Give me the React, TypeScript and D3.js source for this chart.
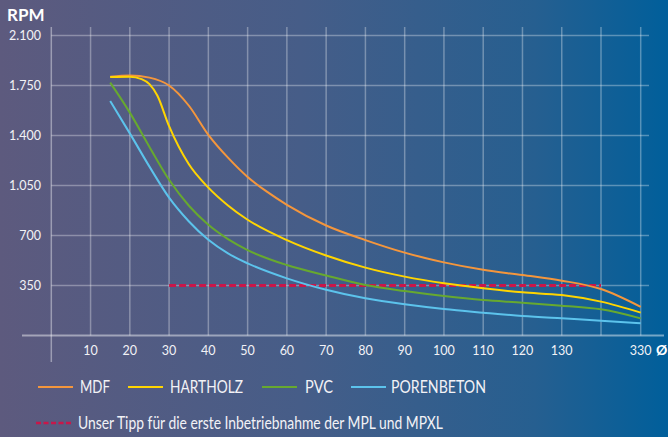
import React from "react";
import * as d3 from "d3";

const W = 668;
const H = 437;

const yTicks = [350, 700, 1050, 1400, 1750, 2100];
const xTickValues = [10, 20, 30, 40, 50, 60, 70, 80, 90, 100, 110, 120, 130, 140, 330];
const xTickLabels = ["10", "20", "30", "40", "50", "60", "70", "80", "90", "100", "110", "120", "130", "", "330"];

const mdfX = [15, 20, 25, 30, 35, 40, 45, 50, 55, 60, 70, 80, 90, 100, 110, 120, 130, 140, 330];
const mdfY = [1812, 1820, 1805, 1750, 1610, 1405, 1245, 1110, 1005, 915, 770, 668, 580, 512, 460, 423, 384, 325, 200];

const hartX = [15, 20, 23, 25, 27, 30, 35, 40, 45, 50, 60, 70, 80, 90, 100, 110, 120, 130, 140, 330];
const hartY = [1810, 1812, 1795, 1760, 1680, 1465, 1200, 1035, 910, 810, 668, 560, 475, 412, 365, 330, 302, 283, 237, 160];

const pvcX = [15, 20, 25, 30, 35, 40, 45, 50, 60, 70, 80, 90, 100, 110, 120, 130, 140, 330];
const pvcY = [1770, 1560, 1320, 1090, 910, 775, 675, 598, 493, 420, 353, 311, 276, 248, 230, 209, 183, 120];

const porX = [15, 20, 25, 30, 35, 40, 45, 50, 60, 70, 80, 90, 100, 110, 120, 130, 140, 330];
const porY = [1641, 1415, 1182, 965, 800, 670, 575, 505, 400, 320, 260, 218, 185, 160, 137, 120, 104, 85];

const tipX = [30, 140];
const tipY = [350, 350];

const seriesNames = ["MDF", "HARTHOLZ", "PVC", "PORENBETON"];
const seriesColors = ["#f4963c", "#ffd500", "#67a92f", "#5cc3ec"];
const tipLabel = "Unser Tipp für die erste Inbetriebnahme der MPL und MPXL";

export default function App() {
  const x = d3.scaleLinear().domain([0, 140, 330]).range([51.3, 601, 640.7]);
  const y = d3.scaleLinear().domain([0, 2100]).range([335.5, 35.5]);

  const line = d3
    .line<[number, number]>()
    .x((d) => x(d[0]))
    .y((d) => y(d[1]))
    .curve(d3.curveMonotoneX);

  const series = [
    { xs: mdfX, ys: mdfY },
    { xs: hartX, ys: hartY },
    { xs: pvcX, ys: pvcY },
    { xs: porX, ys: porY },
  ];

  const font = "Lato, 'Open Sans', sans-serif";
  const gridColor = "rgba(255,255,255,0.32)";

  const legendItems = [
    { lx: 38, tx: 80, w: 30 },
    { lx: 128, tx: 170, w: 73 },
    { lx: 262, tx: 305, w: 28 },
    { lx: 351, tx: 391, w: 95 },
  ];

  return (
    <svg
      width={W}
      height={H}
      style={{ position: "absolute", left: 0, top: 0, display: "block" }}
      fontFamily={font}
    >
      <defs>
        <linearGradient id="bg" x1="0" y1="0" x2="1" y2="0">
          <stop offset="0%" stopColor="#5d5a7e" />
          <stop offset="45%" stopColor="#465d88" />
          <stop offset="80%" stopColor="#265f90" />
          <stop offset="100%" stopColor="#005f9b" />
        </linearGradient>
      </defs>
      <rect x={0} y={0} width={W} height={H} fill="url(#bg)" />

      {yTicks.map((t) => (
        <line key={"h" + t} x1={x(0)} x2={649} y1={y(t)} y2={y(t)} stroke={gridColor} strokeWidth={1.5} />
      ))}
      {xTickValues.map((t) => (
        <line key={"v" + t} x1={x(t)} x2={x(t)} y1={27} y2={y(0)} stroke={gridColor} strokeWidth={1.5} />
      ))}
      <line x1={x(0)} x2={x(0)} y1={27} y2={362} stroke="rgba(255,255,255,0.4)" strokeWidth={1.5} />
      <line x1={22} x2={664} y1={y(0)} y2={y(0)} stroke="rgba(255,255,255,0.45)" strokeWidth={2} />

      {yTicks.map((t) => (
        <text
          key={"yl" + t}
          x={41}
          y={y(t)}
          dy="0.35em"
          textAnchor="end"
          fill="#f2f2f6"
          fontSize={12.5}
        >
          {d3.format(",")(t).replace(",", ".")}
        </text>
      ))}
      <text x={7} y={21} fill="#ffffff" fontSize={17} fontWeight="bold">
        RPM
      </text>

      {xTickValues.map((t, i) => (
        <text key={"xl" + t} x={x(t)} y={355} textAnchor="middle" fill="#f2f2f6" fontSize={12.5}>
          {xTickLabels[i]}
        </text>
      ))}
      <text x={656} y={355} fill="#ffffff" fontSize={14} fontWeight="bold">
        Ø
      </text>

      <path
        d={line(tipX.map((v, i) => [v, tipY[i]]) as [number, number][]) || ""}
        fill="none"
        stroke="#c8174a"
        strokeWidth={3}
        strokeDasharray="7 3"
      />

      {series.map((s, i) => (
        <path
          key={seriesNames[i]}
          d={line(s.xs.map((v, j) => [v, s.ys[j]]) as [number, number][]) || ""}
          fill="none"
          stroke={seriesColors[i]}
          strokeWidth={2}
        />
      ))}

      {legendItems.map((l, i) => (
        <g key={"lg" + i}>
          <line x1={l.lx} x2={l.lx + 35} y1={387} y2={387} stroke={seriesColors[i]} strokeWidth={2} />
          <text
            x={l.tx}
            y={387}
            dy="0.36em"
            fill="#f2f2f6"
            fontSize={16.5}
            textLength={l.w}
            lengthAdjust="spacingAndGlyphs"
          >
            {seriesNames[i]}
          </text>
        </g>
      ))}
      <line x1={36} x2={72} y1={423} y2={423} stroke="#c8174a" strokeWidth={2.5} strokeDasharray="5 2.5" />
      <text
        x={78}
        y={423}
        dy="0.36em"
        fill="#f2f2f6"
        fontSize={16.5}
        textLength={365}
        lengthAdjust="spacingAndGlyphs"
      >
        {tipLabel}
      </text>
    </svg>
  );
}
